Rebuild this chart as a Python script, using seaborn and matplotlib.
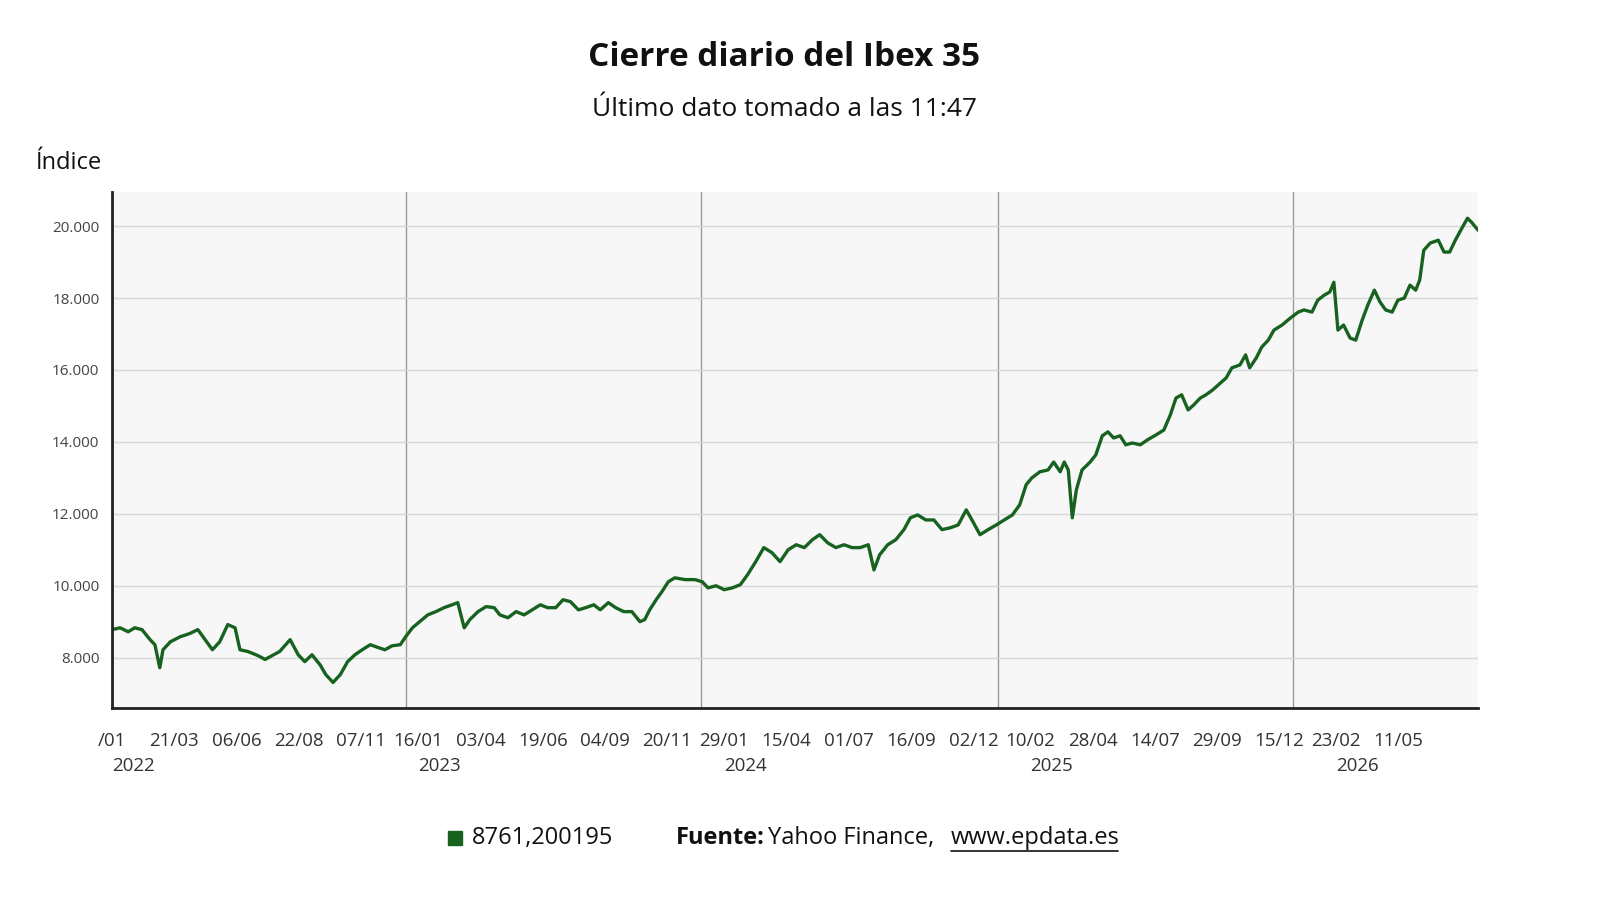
import matplotlib
matplotlib.use("Agg")
import matplotlib.pyplot as plt
import matplotlib.transforms as mtransforms
import seaborn as sns
import pandas as pd

start = pd.Timestamp("2022-01-03")
day_offsets = [0,10,20,28,37,47,53,59,63,72,84,96,106,115,124,133,143,152,158,168,180,189,198,207,220,230,238,247,257,264,273,282,291,300,309,319,329,337,346,356,362,371,380,390,400,410,420,427,435,442,452,462,472,479,489,499,509,519,529,538,548,557,566,576,585,595,603,613,622,632,642,652,658,664,672,679,687,695,708,720,729,736,746,756,766,776,785,795,805,815,825,835,845,855,865,874,884,894,904,914,924,934,941,948,958,968,978,986,995,1005,1015,1025,1035,1045,1055,1062,1072,1082,1092,1102,1112,1121,1129,1136,1146,1156,1163,1171,1176,1181,1186,1191,1198,1208,1215,1223,1230,1237,1245,1252,1260,1270,1279,1289,1299,1307,1314,1321,1329,1336,1344,1351,1359,1366,1376,1383,1393,1400,1405,1413,1420,1428,1435,1445,1455,1465,1472,1482,1489,1497,1504,1509,1514,1521,1529,1536,1544,1551,1559,1566,1573,1581,1588,1596,1603,1610,1615,1620,1628,1638,1645,1652,1659,1667,1674,1679,1687]
values = [8780,8830,8720,8830,8780,8500,8360,7720,8220,8440,8580,8670,8780,8500,8220,8440,8920,8830,8220,8170,8060,7950,8060,8170,8500,8080,7890,8080,7800,7530,7310,7530,7890,8080,8220,8360,8280,8220,8330,8360,8560,8830,9000,9190,9280,9390,9470,9530,8830,9060,9280,9420,9390,9190,9110,9280,9190,9330,9470,9390,9390,9610,9560,9330,9390,9470,9330,9530,9390,9280,9280,9000,9060,9330,9610,9830,10110,10220,10170,10170,10110,9940,10000,9890,9940,10030,10310,10670,11060,10920,10670,11000,11140,11060,11280,11420,11190,11060,11140,11060,11060,11140,10440,10860,11140,11280,11560,11890,11970,11830,11830,11560,11610,11690,12110,11830,11420,11560,11690,11830,11970,12250,12810,13000,13170,13220,13440,13170,13440,13220,11890,12670,13220,13440,13640,14170,14280,14110,14170,13920,13970,13920,14060,14190,14330,14750,15220,15310,14890,15030,15220,15310,15440,15580,15780,16060,16140,16420,16060,16330,16640,16830,17110,17250,17440,17610,17670,17610,17940,18080,18170,18440,17110,17250,16890,16830,17390,17810,18220,17890,17670,17610,17940,18000,18360,18220,18500,19330,19530,19610,19280,19280,19610,19940,20220,20110,19890]
tick_dates = ["2022-01-03","2022-03-21","2022-06-06","2022-08-22","2022-11-07","2023-01-16","2023-04-03","2023-06-19","2023-09-04","2023-11-20","2024-01-29","2024-04-15","2024-07-01","2024-09-16","2024-12-02","2025-02-10","2025-04-28","2025-07-14","2025-09-29","2025-12-15","2026-02-23","2026-05-11"]
tick_labels = ["/01","21/03","06/06","22/08","07/11","16/01","03/04","19/06","04/09","20/11","29/01","15/04","01/07","16/09","02/12","10/02","28/04","14/07","29/09","15/12","23/02","11/05"]
year_ticks = {"2022":"2022-01-03","2023":"2023-01-16","2024":"2024-01-29","2025":"2025-02-10","2026":"2026-02-23"}
year_lines = ["2023-01-01","2024-01-01","2025-01-01","2026-01-01"]

n = min(len(day_offsets), len(values))
df = pd.DataFrame({"fecha": [start + pd.Timedelta(days=d) for d in day_offsets[:n]],
                   "valor": values[:n]})

sns.set_theme(style="white")
plt.rcParams['font.family'] = ['Open Sans', 'DejaVu Sans']
fig = plt.figure(figsize=(16, 9), dpi=100)
ax = fig.add_axes([112/1600, 1-708/900, (1478-112)/1600, (708-192)/900])
ax.set_facecolor("#f7f7f7")
green = "#17621f"
sns.lineplot(data=df, x="fecha", y="valor", ax=ax, color=green, linewidth=2.4)

ax.set_xlim(start, start + pd.Timedelta(days=day_offsets[n-1]))
ax.set_ylim(6600, 20950)
ax.set_yticks([8000,10000,12000,14000,16000,18000,20000])
ax.set_yticklabels([f"{v:,}".replace(",", ".") for v in [8000,10000,12000,14000,16000,18000,20000]],
                   fontsize=11, color="#444444")
ax.yaxis.grid(True, color="#d8d8d8", linewidth=1)
for yl in year_lines:
    ax.axvline(pd.Timestamp(yl), color="#999999", linewidth=1, zorder=0)
ax.set_xticks([pd.Timestamp(t) for t in tick_dates])
ax.set_xticklabels(tick_labels, fontsize=13.5, color="#333333")
ax.tick_params(axis="x", length=5, width=1.5, color="#222222", pad=12)
ax.tick_params(axis="y", length=3, width=1.5, color="#222222", pad=6)
trans = mtransforms.blended_transform_factory(ax.transData, ax.transAxes)
for yr, d in year_ticks.items():
    ax.text(pd.Timestamp(d), -0.095, yr, transform=trans, ha="left", va="top",
            fontsize=13.5, color="#333333")
for s in ["top", "right"]:
    ax.spines[s].set_visible(False)
for s in ["left", "bottom"]:
    ax.spines[s].set_color("#222222")
    ax.spines[s].set_linewidth(2)
ax.set_xlabel("")
ax.set_ylabel("")

fig.text(0.49, 1-58/900, "Cierre diario del Ibex 35", ha="center", va="center",
         fontsize=24, fontweight="bold", color="#111111")
fig.text(0.49, 1-110/900, "Último dato tomado a las 11:47", ha="center", va="center",
         fontsize=19, color="#111111")
fig.text(36/1600, 1-163/900, "Índice", ha="left", va="center", fontsize=17, color="#111111")

fig.patches.append(plt.Rectangle((448/1600, 1-845/900), 14/1600, 14/900,
                                 transform=fig.transFigure, color=green))
fig.text(472/1600, 1-838/900, "8761,200195", ha="left", va="center", fontsize=17, color="#111111")
fig.text(676/1600, 1-838/900, "Fuente:", ha="left", va="center", fontsize=17,
         fontweight="bold", color="#111111")
fig.text(768/1600, 1-838/900, "Yahoo Finance,", ha="left", va="center", fontsize=17, color="#111111")
fig.text(951/1600, 1-838/900, "www.epdata.es", ha="left", va="center", fontsize=17, color="#111111")
fig.add_artist(plt.Line2D([951/1600, 1118/1600], [1-851/900, 1-851/900], color="#111111", linewidth=1.2))

fig.savefig("out.png", dpi=100)
